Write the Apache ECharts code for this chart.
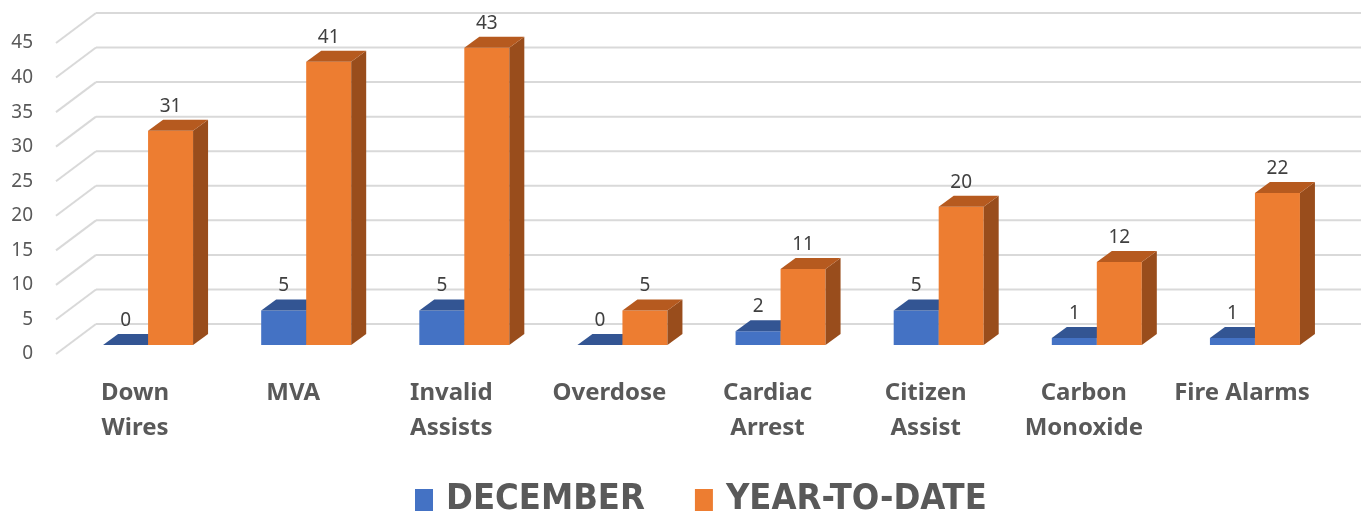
<!DOCTYPE html>
<html>
<head>
<meta charset="utf-8">
<script src="https://cdn.jsdelivr.net/npm/echarts@6/dist/echarts.min.js"></script>
<style>
  html, body { margin: 0; padding: 0; background: #fff; }
  #chart { width: 1364px; height: 519px; }
</style>
</head>
<body>
<div id="chart"></div>
<script>
var categories = ['Down\nWires', 'MVA', 'Invalid\nAssists', 'Overdose', 'Cardiac\nArrest', 'Citizen\nAssist', 'Carbon\nMonoxide', 'Fire Alarms'];
var december = [0, 5, 5, 0, 2, 5, 1, 1];
var yearToDate = [31, 41, 43, 5, 11, 20, 12, 22];
var yTicks = [0, 5, 10, 15, 20, 25, 30, 35, 40, 45];

// fake 3d offsets (px)
var WALL_DX = 40, WALL_DY = -30;
var BAR_DX = 15, BAR_DY = -11;
var BAR_SHIFT_X = 13, BAR_SHIFT_Y = -9, BAR_W = 45;

var chart = echarts.init(document.getElementById('chart'));

function wallItem(params, api) {
  var cs = params.coordSys;
  var y = api.coord([0, api.value(1)])[1];
  var left = cs.x, right = cs.x + cs.width;
  var st = { stroke: '#d9d9d9', lineWidth: 2, fill: null };
  return {
    type: 'group',
    children: [
      { type: 'line', shape: { x1: left, y1: y, x2: left + WALL_DX, y2: y + WALL_DY }, style: st },
      { type: 'line', shape: { x1: left + WALL_DX, y1: y + WALL_DY, x2: right + WALL_DX, y2: y + WALL_DY }, style: st }
    ]
  };
}

function barRenderer(side, front, top, sideCol) {
  return function (params, api) {
    var idx = api.value(0), v = api.value(1);
    var base = api.coord([idx, 0]);
    var tp = api.coord([idx, v]);
    var x0 = base[0] + BAR_SHIFT_X + (side === 0 ? -BAR_W : 0);
    var x1 = x0 + BAR_W;
    var yb = base[1] + BAR_SHIFT_Y;
    var yt = tp[1] + BAR_SHIFT_Y;
    return {
      type: 'group',
      children: [
        { type: 'rect', shape: { x: x0, y: yt, width: BAR_W, height: yb - yt }, style: { fill: front } },
        { type: 'polygon', shape: { points: [[x1, yb], [x1 + BAR_DX, yb + BAR_DY], [x1 + BAR_DX, yt + BAR_DY], [x1, yt]] }, style: { fill: sideCol } },
        { type: 'polygon', shape: { points: [[x0, yt], [x1, yt], [x1 + BAR_DX, yt + BAR_DY], [x0 + BAR_DX, yt + BAR_DY]] }, style: { fill: top } },
        { type: 'text', style: { text: String(v), x: (x0 + x1) / 2, y: yt + BAR_DY - 4, align: 'center', verticalAlign: 'bottom', fill: '#404040', font: '19px "Noto Sans"' } }
      ]
    };
  };
}

var option = {
  animation: false,
  backgroundColor: '#ffffff',
  grid: { left: 56, right: 43, top: 43, bottom: 165 },
  legend: {
    left: 410,
    top: 477,
    itemWidth: 18,
    itemHeight: 22,
    itemGap: 50,
    icon: 'rect',
    textStyle: { fontFamily: '"DejaVu Sans Condensed", sans-serif', fontWeight: 'bold', fontSize: 36, color: '#595959', padding: [0, 0, 0, 8] },
    data: ['DECEMBER', 'YEAR-TO-DATE']
  },
  xAxis: {
    type: 'category',
    data: categories,
    axisLine: { show: false },
    axisTick: { show: false },
    axisLabel: { margin: 22, color: '#595959', fontFamily: 'Noto Sans', fontWeight: 'bold', fontSize: 24, lineHeight: 35, interval: 0 }
  },
  yAxis: {
    type: 'value',
    min: 0,
    max: 45,
    interval: 5,
    axisLine: { show: false },
    axisTick: { show: false },
    splitLine: { show: false },
    axisLabel: { margin: 23, color: '#595959', fontFamily: 'Noto Sans', fontSize: 19 }
  },
  series: [
    {
      name: 'wall',
      type: 'custom',
      clip: false,
      silent: true,
      renderItem: wallItem,
      data: yTicks.map(function (t) { return [0, t]; })
    },
    {
      name: 'DECEMBER',
      type: 'custom',
      clip: false,
      itemStyle: { color: '#4472c4' },
      renderItem: barRenderer(0, '#4472c4', '#335593', '#2d4f8a'),
      data: december.map(function (v, i) { return [i, v]; })
    },
    {
      name: 'YEAR-TO-DATE',
      type: 'custom',
      clip: false,
      itemStyle: { color: '#ed7d31' },
      renderItem: barRenderer(1, '#ed7d31', '#b65a1f', '#994d1c'),
      data: yearToDate.map(function (v, i) { return [i, v]; })
    }
  ]
};

chart.setOption(option);
</script>
</body>
</html>
